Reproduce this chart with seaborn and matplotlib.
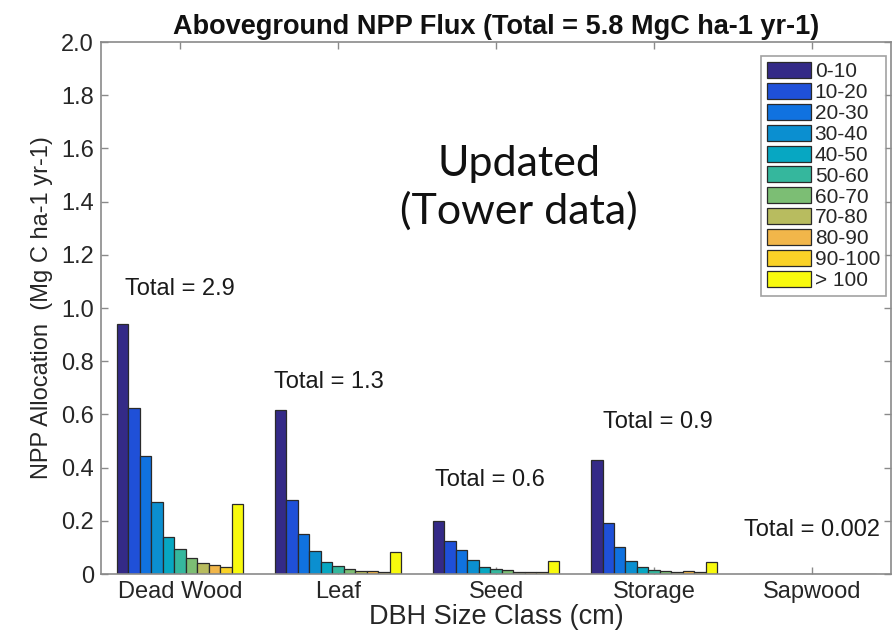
import matplotlib
matplotlib.use("Agg")
import matplotlib.pyplot as plt
import seaborn as sns
import pandas as pd

# NPP allocation (Mg C ha-1 yr-1) by tissue and DBH size class
categories = ["Dead Wood", "Leaf", "Seed", "Storage", "Sapwood"]
size_classes = ["0-10", "10-20", "20-30", "30-40", "40-50", "50-60",
                "60-70", "70-80", "80-90", "90-100", "> 100"]
dead_wood = [0.94, 0.625, 0.445, 0.27, 0.14, 0.094, 0.06, 0.04, 0.034, 0.027, 0.264]
leaf = [0.617, 0.278, 0.152, 0.088, 0.044, 0.029, 0.018, 0.013, 0.010, 0.007, 0.082]
seed = [0.200, 0.125, 0.090, 0.053, 0.025, 0.019, 0.014, 0.009, 0.008, 0.007, 0.049]
storage = [0.427, 0.190, 0.103, 0.050, 0.028, 0.016, 0.013, 0.006, 0.010, 0.006, 0.044]
sapwood = [0.0005, 0.0003, 0.0002, 0.0002, 0.0001, 0.0001, 0.0001, 0.0001, 0.0001, 0.0001, 0.0002]
totals = ["2.9", "1.3", "0.6", "0.9", "0.002"]
total_label_x = [0.0, 0.94, 1.96, 3.025, 4.0]
total_label_y = [1.07, 0.723, 0.354, 0.572, 0.166]

colors = ["#342a87", "#1f50d8", "#1072e0", "#0b8fd0", "#07a7c2", "#35b79d",
          "#7cbe74", "#b8bc5f", "#f1b64a", "#fad227", "#f8fa0d"]

rows = []
for cat, vals in zip(categories, [dead_wood, leaf, seed, storage, sapwood]):
    for sc, v in zip(size_classes, vals):
        rows.append({"category": cat, "size": sc, "value": v})
df = pd.DataFrame(rows)

sns.set_style("white")
plt.rcParams["font.family"] = ["Liberation Sans", "DejaVu Sans"]

fig = plt.figure(figsize=(8.94, 6.34), dpi=100)
ax = fig.add_axes([0.113, 0.0946, 0.884, 0.839])

sns.barplot(data=df, x="category", y="value", hue="size", order=categories,
            hue_order=size_classes, palette=colors, saturation=1, width=0.8, gap=0,
            edgecolor="#2a2a2a", linewidth=0.9, ax=ax, legend=True)

ax.set_xlim(-0.5, 4.5)
ax.set_ylim(0, 2.0)
yt = [0, 0.2, 0.4, 0.6, 0.8, 1.0, 1.2, 1.4, 1.6, 1.8, 2.0]
ax.set_yticks(yt)
ax.set_yticklabels(["0"] + [f"{v:.1f}" for v in yt[1:]])

for sp in ax.spines.values():
    sp.set_visible(True)
    sp.set_color("#8a8a8a")
    sp.set_linewidth(1.2)
ax.tick_params(axis="both", direction="in", length=5, width=1.0, color="#8a8a8a",
               top=True, right=True, bottom=True, left=True,
               labelsize=17, labelcolor="#262626", pad=5)

ax.set_xlabel("DBH Size Class (cm)", fontsize=19.5, color="#262626", labelpad=1)
ax.set_ylabel("NPP Allocation  (Mg C ha-1 yr-1)", fontsize=17, color="#262626", labelpad=6)
ax.set_title("Aboveground NPP Flux (Total = 5.8 MgC ha-1 yr-1)", fontsize=19.5,
             fontweight="bold", color="#111111", pad=6)

for x, t, y in zip(total_label_x, totals, total_label_y):
    ax.text(x, y, f"Total = {t}", ha="center", va="center", fontsize=17, color="#1a1a1a")

ax.text(0.529, 0.726, "Updated\n(Tower data)", transform=ax.transAxes, ha="center",
        va="center", fontsize=31, family=["Lato", "DejaVu Sans"], color="#111111",
        linespacing=1.25)

leg = ax.legend(loc="upper right", bbox_to_anchor=(0.999, 0.982), fontsize=15,
                title=None, frameon=True, fancybox=False, handlelength=2.1,
                handleheight=0.8, handletextpad=0.2, labelspacing=0.08,
                borderpad=0.3, borderaxespad=0.2)
leg.get_frame().set_edgecolor("#8a8a8a")
leg.get_frame().set_linewidth(1.2)

fig.savefig("out.png", dpi=100)
